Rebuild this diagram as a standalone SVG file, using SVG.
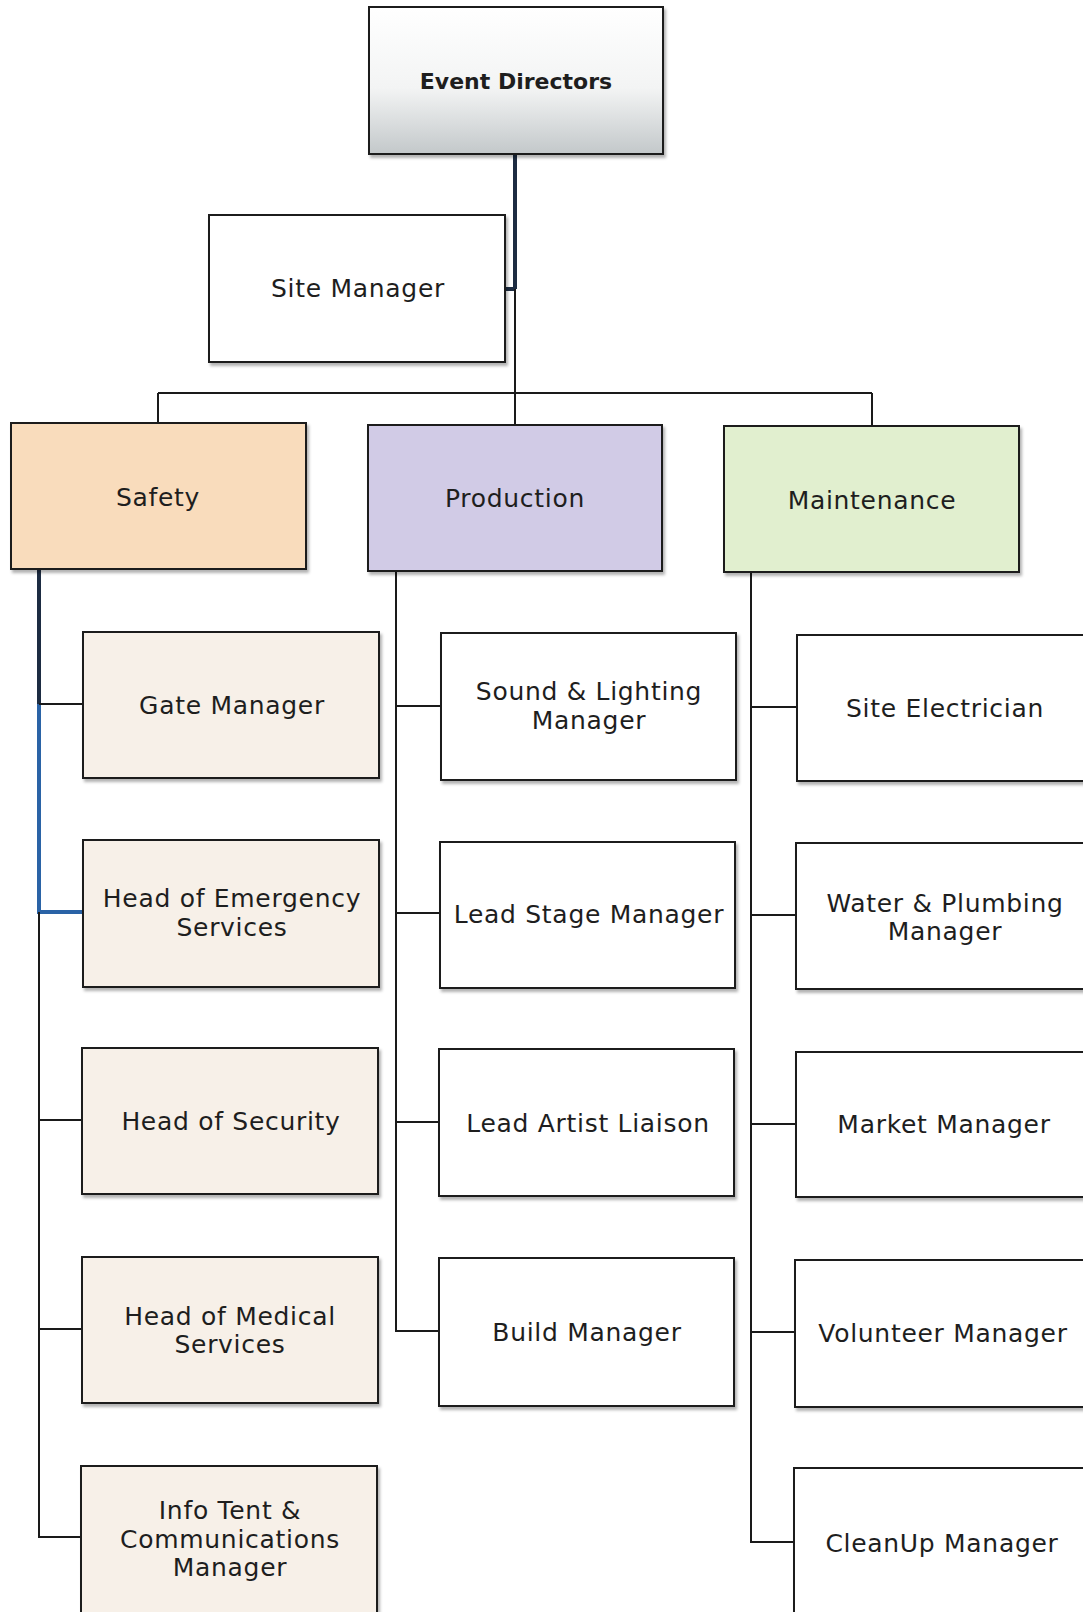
<svg xmlns="http://www.w3.org/2000/svg" width="1083" height="1612" viewBox="0 0 1083 1612">
<defs>
<linearGradient id="gradED" x1="0" y1="0" x2="0" y2="1">
<stop offset="0" stop-color="#ffffff"/>
<stop offset="0.55" stop-color="#f3f4f4"/>
<stop offset="1" stop-color="#c3c8ca"/>
</linearGradient>
<filter id="sh" x="-5%" y="-5%" width="115%" height="120%">
<feDropShadow dx="2" dy="3" stdDeviation="1.5" flood-color="#000" flood-opacity="0.3"/>
</filter>
</defs>
<style>
.box{stroke:#1a1a1a;stroke-width:2;filter:url(#sh)}
.white{fill:#ffffff}
.cream{fill:#f7f0e8}
.safety{fill:#f9dcbc}
.prod{fill:#d1cbe6}
.maint{fill:#e1efcf}
text{font-family:"DejaVu Sans","Liberation Sans",sans-serif;font-size:25px;letter-spacing:0.7px;fill:#1e1e1e;text-anchor:middle}
.bold{font-weight:bold;font-size:22px;letter-spacing:0}
.ln{stroke:#1a1a1a;stroke-width:2;fill:none}
.navy{stroke:#1d2c42;stroke-width:4;fill:none}
.blue{stroke:#2a63a6;stroke-width:4;fill:none}
</style>
<rect width="1083" height="1612" fill="#ffffff"/>
<g id="connectors">
<path class="navy" d="M515,154 V289 M505,289 H515"/>
<path class="ln" d="M515,289 V425"/>
<path class="ln" d="M158,393 H872 M158,393 V423 M872,393 V426"/>
<path class="navy" d="M39,569 V704"/>
<path class="blue" d="M39,704 V912 H82"/>
<path class="ln" d="M39,704 H82 M39,912 V1537 H82 M39,1120 H82 M39,1329 H82"/>
<path class="ln" d="M396,571 V1331 H440 M396,706 H440 M396,913 H440 M396,1122 H440"/>
<path class="ln" d="M751,572 V1542 H796 M751,707 H796 M751,915 H796 M751,1124 H796 M751,1332 H796"/>
</g>
<g id="event-directors">
<rect class="box" x="369" y="7" width="294" height="147" fill="url(#gradED)"/>
<text class="bold" x="516" y="89">Event Directors</text>
</g>
<g id="site-manager">
<rect class="box white" x="209" y="215" width="296" height="147"/>
<text x="358" y="297">Site Manager</text>
</g>
<g id="safety">
<rect class="box safety" x="11" y="423" width="295" height="146"/>
<text x="158" y="506">Safety</text>
</g>
<g id="production">
<rect class="box prod" x="368" y="425" width="294" height="146"/>
<text x="515" y="507">Production</text>
</g>
<g id="maintenance">
<rect class="box maint" x="724" y="426" width="295" height="146"/>
<text x="872" y="509">Maintenance</text>
</g>
<g id="gate-manager">
<rect class="box cream" x="83" y="632" width="296" height="146"/>
<text x="232" y="714">Gate Manager</text>
</g>
<g id="head-emergency">
<rect class="box cream" x="83" y="840" width="296" height="147"/>
<text x="232" y="907">Head of Emergency</text>
<text x="232" y="936">Services</text>
</g>
<g id="head-security">
<rect class="box cream" x="82" y="1048" width="296" height="146"/>
<text x="231" y="1130">Head of Security</text>
</g>
<g id="head-medical">
<rect class="box cream" x="82" y="1257" width="296" height="146"/>
<text x="230" y="1325">Head of Medical</text>
<text x="230" y="1353">Services</text>
</g>
<g id="info-tent">
<rect class="box cream" x="81" y="1466" width="296" height="160"/>
<text x="230" y="1519">Info Tent &amp;</text>
<text x="230" y="1548">Communications</text>
<text x="230" y="1576">Manager</text>
</g>
<g id="sound-lighting">
<rect class="box white" x="441" y="633" width="295" height="147"/>
<text x="589" y="700">Sound &amp; Lighting</text>
<text x="589" y="729">Manager</text>
</g>
<g id="lead-stage">
<rect class="box white" x="440" y="842" width="295" height="146"/>
<text x="589" y="923">Lead Stage Manager</text>
</g>
<g id="lead-artist">
<rect class="box white" x="439" y="1049" width="295" height="147"/>
<text x="588" y="1132">Lead Artist Liaison</text>
</g>
<g id="build-manager">
<rect class="box white" x="439" y="1258" width="295" height="148"/>
<text x="587" y="1341">Build Manager</text>
</g>
<g id="site-electrician">
<rect class="box white" x="797" y="635" width="300" height="146"/>
<text x="945" y="717">Site Electrician</text>
</g>
<g id="water-plumbing">
<rect class="box white" x="796" y="843" width="300" height="146"/>
<text x="945" y="912">Water &amp; Plumbing</text>
<text x="945" y="940">Manager</text>
</g>
<g id="market-manager">
<rect class="box white" x="796" y="1052" width="300" height="145"/>
<text x="944" y="1133">Market Manager</text>
</g>
<g id="volunteer-manager">
<rect class="box white" x="795" y="1260" width="300" height="147"/>
<text x="943" y="1342">Volunteer Manager</text>
</g>
<g id="cleanup-manager">
<rect class="box white" x="794" y="1468" width="300" height="160"/>
<text x="942" y="1552">CleanUp Manager</text>
</g>
</svg>
